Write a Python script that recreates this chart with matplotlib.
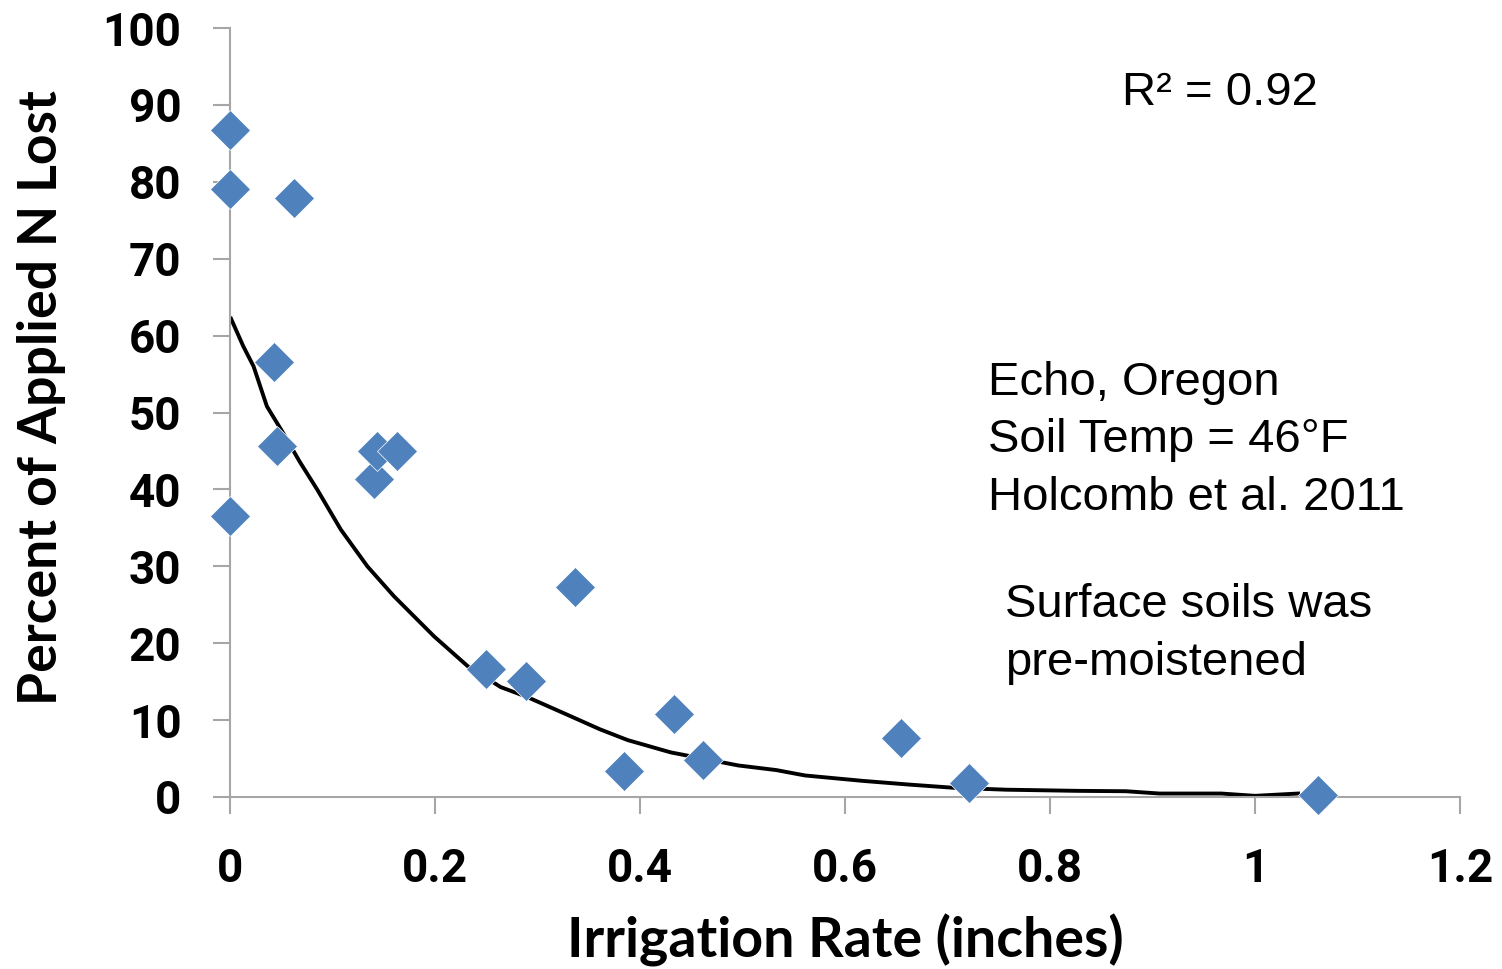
import matplotlib
matplotlib.use("Agg")
import matplotlib.pyplot as plt
from matplotlib.ticker import FixedLocator

# Observed data
irrigation = [0.0, 0.0, 0.062, 0.043, 0.046, 0.0, 0.140, 0.143, 0.163,
              0.250, 0.289, 0.337, 0.384, 0.433, 0.461, 0.655, 0.721, 1.061]
n_lost = [86.8, 79.1, 77.9, 56.6, 45.6, 36.5, 41.3, 45.0, 45.0,
          16.7, 15.1, 27.3, 3.4, 10.8, 4.8, 7.7, 1.8, 0.2]

# Fitted trend line
fit_x = [0.001, 0.013, 0.023, 0.036, 0.052, 0.068, 0.085, 0.108, 0.134, 0.160,
         0.199, 0.232, 0.264, 0.290, 0.329, 0.361, 0.388, 0.430, 0.496, 0.533,
         0.561, 0.617, 0.664, 0.706, 0.757, 0.827, 0.874, 0.907, 0.967, 1.0, 1.042]
fit_y = [62.2, 58.6, 56.0, 50.8, 47.3, 43.6, 40.0, 34.8, 30.0, 26.1,
         20.9, 17.0, 14.3, 13.0, 10.7, 8.8, 7.4, 5.8, 4.1, 3.5,
         2.8, 2.1, 1.6, 1.2, 0.95, 0.8, 0.75, 0.45, 0.45, 0.15, 0.45]

x_ticks = [0, 0.2, 0.4, 0.6, 0.8, 1.0, 1.2]
x_tick_labels = ["0", "0.2", "0.4", "0.6", "0.8", "1", "1.2"]
y_ticks = [0, 10, 20, 30, 40, 50, 60, 70, 80, 90, 100]

fig = plt.figure(figsize=(15.02, 9.69), dpi=100)
ax = fig.add_axes([230/1502, 1-797/969, (1460-230)/1502, (797-28)/969])

ax.plot(fit_x, fit_y, color="black", lw=2.8, zorder=2)
ax.plot(irrigation, n_lost, linestyle="none", marker="D", ms=20,
        color="#4F81BD", mec="white", mew=0.5, zorder=3, clip_on=False)

ax.set_xlim(0, 1.2)
ax.set_ylim(0, 100)
ax.xaxis.set_major_locator(FixedLocator(x_ticks))
ax.set_xticklabels(x_tick_labels)
ax.yaxis.set_major_locator(FixedLocator(y_ticks))

for s in ["top", "right"]:
    ax.spines[s].set_visible(False)
for s in ["left", "bottom"]:
    ax.spines[s].set_color("#A6A6A6")
    ax.spines[s].set_linewidth(1.5)

ax.tick_params(axis="both", direction="out", length=12, width=1.5,
               color="#A6A6A6", labelsize=33)
ax.tick_params(axis="y", pad=23)
ax.tick_params(axis="x", pad=24)
for lab in ax.get_xticklabels() + ax.get_yticklabels():
    lab.set_fontfamily("Roboto")
    lab.set_fontweight("bold")

ax.set_xlabel("Irrigation Rate (inches)", fontsize=40, fontfamily="Lato",
              fontweight="bold")
ax.set_ylabel("Percent of Applied N Lost", fontsize=38.5, fontfamily="Lato",
              fontweight="bold")
ax.xaxis.set_label_coords(0.5, -0.152)
ax.yaxis.set_label_coords(-0.133, 0.52)

tf = dict(fontfamily="Liberation Sans", fontsize=34, color="black",
          transform=fig.transFigure)
fig.text(1122/1502, 1-105/969, "R² = 0.92", **tf)
fig.text(988/1502, 1-395/969, "Echo, Oregon", **tf)
fig.text(988/1502, 1-452/969, "Soil Temp = 46°F", **tf)
fig.text(988/1502, 1-510/969, "Holcomb et al. 2011", **tf)
fig.text(1005/1502, 1-617/969, "Surface soils was", **tf)
fig.text(1005/1502, 1-675/969, "pre-moistened", **tf)

fig.savefig("out.png", dpi=100)
